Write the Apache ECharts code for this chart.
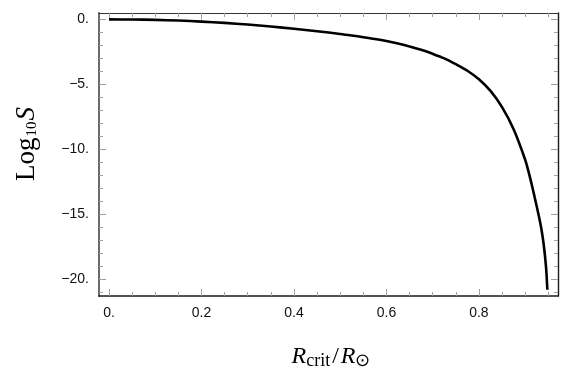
<!DOCTYPE html>
<html>
<head>
    <meta charset="utf-8">
    <title>Log10 S vs Rcrit</title>
    <script src="https://cdn.jsdelivr.net/npm/echarts@6/dist/echarts.min.js"></script>
    <style>
        html, body { margin: 0; padding: 0; background: #fff; }
        #chartcanvas { width: 572px; height: 387px; }
    </style>
</head>
<body>
<div id="chartcanvas"></div>
<script>
    // curve
    var rValues = [0, 0.05, 0.1, 0.15, 0.2, 0.25, 0.3, 0.35, 0.4, 0.45, 0.5, 0.525, 0.55, 0.575, 0.6, 0.625,
        0.65, 0.675, 0.7, 0.725, 0.75, 0.775, 0.8, 0.825, 0.85, 0.875, 0.9, 0.91, 0.92, 0.93, 0.935, 0.94,
        0.945, 0.948];
    var logS = [0, -0.01, -0.04, -0.09, -0.17, -0.27, -0.4, -0.55, -0.72, -0.91, -1.12, -1.24, -1.37, -1.51,
        -1.67, -1.86, -2.08, -2.34, -2.65, -3.0, -3.45, -3.95, -4.6, -5.5, -6.75, -8.45, -10.8, -12.1, -13.6,
        -15.2, -16.1, -17.3, -19.0, -20.8];

    // axes
    var xMin = -0.0216, xMax = 0.971;
    var yMin = -21.28, yMax = 0.49;
    var xMajor = [0, 0.2, 0.4, 0.6, 0.8];
    var xMajorLabels = ['0.', '0.2', '0.4', '0.6', '0.8'];
    var xMinor = [0.05, 0.1, 0.15, 0.25, 0.3, 0.35, 0.45, 0.5, 0.55, 0.65, 0.7, 0.75, 0.85, 0.9, 0.95];
    var yMajor = [0, -5, -10, -15, -20];
    var yMajorLabels = ['0.', '\u22125.', '\u221210.', '\u221215.', '\u221220.'];
    var yMinor = [-1, -2, -3, -4, -6, -7, -8, -9, -11, -12, -13, -14, -16, -17, -18, -19, -21];

    var labelFont = {fontFamily: 'Liberation Sans', fontSize: 14, color: '#111'};
    var tickColor = '#a0a0a0';

    function xAxisDef(pos, values, len, line, labels) {
        return {
            type: 'value', position: pos, min: xMin, max: xMax,
            axisLine: line ? {show: true, onZero: false, lineStyle: line} : {show: false, onZero: false},
            axisTick: {show: true, inside: true, length: len, customValues: values,
                lineStyle: {color: tickColor, width: 1}},
            axisLabel: labels ? Object.assign({
                show: true, customValues: values, margin: 10,
                formatter: function (v) {
                    var i = xMajor.indexOf(v);
                    return i < 0 ? '' : xMajorLabels[i];
                }
            }, labelFont) : {show: false},
            splitLine: {show: false}
        };
    }

    function yAxisDef(pos, values, len, line, labels) {
        return {
            type: 'value', position: pos, min: yMin, max: yMax,
            axisLine: line ? {show: true, onZero: false, lineStyle: line} : {show: false, onZero: false},
            axisTick: {show: true, inside: true, length: len, customValues: values,
                lineStyle: {color: tickColor, width: 1}},
            axisLabel: labels ? Object.assign({
                show: true, customValues: values, margin: 10,
                formatter: function (v) {
                    var i = yMajor.indexOf(v);
                    return i < 0 ? '' : yMajorLabels[i];
                }
            }, labelFont) : {show: false},
            splitLine: {show: false}
        };
    }

    var myChart = echarts.init(document.getElementById('chartcanvas'));
    myChart.setOption({
        backgroundColor: '#fff',
        animation: false,
        grid: {left: 99, right: 14, top: 13, bottom: 91, containLabel: false},
        xAxis: [
            xAxisDef('bottom', xMajor, 7, {color: '#1a1a1a', width: 1.6}, true),
            xAxisDef('top', xMajor, 7, {color: '#333', width: 1}, false),
            xAxisDef('bottom', xMinor, 4, null, false),
            xAxisDef('top', xMinor, 4, null, false)
        ],
        yAxis: [
            yAxisDef('left', yMajor, 7, {color: '#6a6a6a', width: 2}, true),
            yAxisDef('right', yMajor, 7, {color: '#1a1a1a', width: 1.4}, false),
            yAxisDef('left', yMinor, 4, null, false),
            yAxisDef('right', yMinor, 4, null, false)
        ],
        graphic: [
            {
                type: 'text', x: 27, y: 144, rotation: Math.PI / 2,
                style: {
                    text: '{a|Log}{b|10}{c|S}',
                    align: 'center', verticalAlign: 'middle',
                    rich: {
                        a: {fontFamily: 'Liberation Serif', fontSize: 27, color: '#111'},
                        b: {fontFamily: 'Liberation Serif', fontSize: 15, color: '#111', padding: [10, 1, 0, 1]},
                        c: {fontFamily: 'Liberation Serif', fontSize: 27, fontStyle: 'italic', color: '#111'}
                    }
                }
            },
            {
                type: 'text', x: 331, y: 357,
                style: {
                    text: '{i|R}{s|crit}{n|/}{i|R}{s|\u2299}',
                    align: 'center', verticalAlign: 'middle',
                    rich: {
                        i: {fontFamily: 'Liberation Serif', fontSize: 24, fontStyle: 'italic', color: '#111'},
                        s: {fontFamily: 'Liberation Serif', fontSize: 18, color: '#111', padding: [9, 0, 0, 0]},
                        n: {fontFamily: 'Liberation Serif', fontSize: 24, color: '#111', padding: [0, 2, 0, 2]}
                    }
                }
            }
        ],
        series: [{
            type: 'line',
            xAxisIndex: 0,
            yAxisIndex: 0,
            data: rValues.map(function (r, i) { return [r, logS[i]]; }),
            showSymbol: false,
            smooth: 0.3,
            lineStyle: {color: '#000', width: 2.6},
            silent: true
        }]
    });
</script>
</body>
</html>
